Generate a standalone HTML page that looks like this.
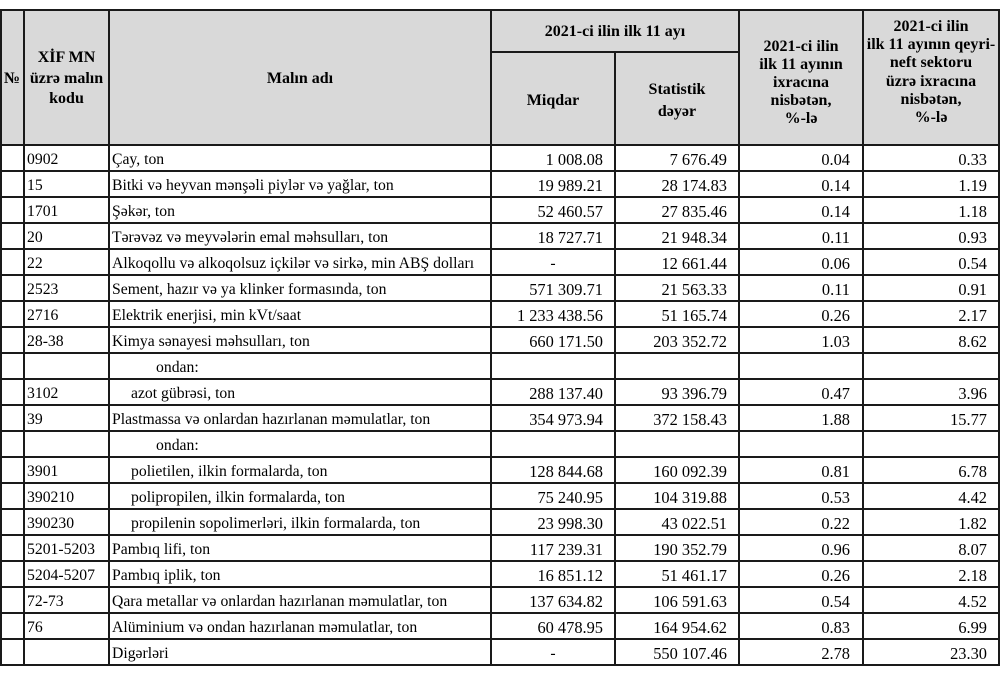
<!DOCTYPE html>
<html><head><meta charset="utf-8">
<style>
*{margin:0;padding:0;box-sizing:border-box}
html,body{width:1000px;height:674px;background:#fff;overflow:hidden}
body{position:relative;font-family:"Liberation Serif","DejaVu Serif",serif;color:#000}
.bg{position:absolute;left:1px;top:10px;width:997px;height:135px;background:#d9d9d9}
.v{position:absolute;width:2px;background:#1a1a1a}
.h{position:absolute;height:2px;background:#1a1a1a}
.hd{position:absolute;font-weight:bold;font-size:16px;text-align:center;white-space:nowrap}
.r{position:absolute;left:0;width:1000px;height:26px;line-height:26px;font-size:15.7px;white-space:nowrap}
.r span{position:absolute;top:2px}
.c{left:27px}
.n{left:112px}
.n2{left:131px}
.o{left:156px}
.m{left:481px;width:122px;text-align:right;font-size:16.4px}
.md{left:491px;width:124px;text-align:center}
.s{left:605px;width:122px;text-align:right;font-size:16.4px}
.p{left:739px;width:111px;text-align:right;font-size:16.4px}
.q{left:863px;width:124px;text-align:right;font-size:16.4px}
</style></head><body>
<div class="bg"></div>

<div class="hd" style="left:1px;width:22px;top:68px;line-height:22px">№</div>
<div class="hd" style="left:24px;width:85px;top:48px;line-height:20.5px">XİF MN<br>üzrə malın<br>kodu</div>
<div class="hd" style="left:110px;width:380px;top:68px;line-height:22px">Malın adı</div>
<div class="hd" style="left:491px;width:248px;top:21px;line-height:22px">2021-ci ilin ilk 11 ayı</div>
<div class="hd" style="left:491px;width:124px;top:90px;line-height:22px">Miqdar</div>
<div class="hd" style="left:615px;width:124px;top:79px;line-height:22px">Statistik<br>dəyər</div>
<div class="hd" style="left:739px;width:124px;top:38px;line-height:18px">2021-ci ilin<br>ilk 11 ayının<br>ixracına<br>nisbətən,<br>%-lə</div>
<div class="hd" style="left:863px;width:136px;top:18px;line-height:18.2px">2021-ci ilin<br>ilk 11 ayının qeyri-<br>neft sektoru<br>üzrə ixracına<br>nisbətən,<br>%-lə</div>

<div class="r" style="top:145px"><span class="c">0902</span><span class="n">Çay, ton</span><span class="m">1 008.08</span><span class="s">7 676.49</span><span class="p">0.04</span><span class="q">0.33</span></div>
<div class="r" style="top:171px"><span class="c">15</span><span class="n">Bitki və heyvan mənşəli piylər və yağlar, ton</span><span class="m">19 989.21</span><span class="s">28 174.83</span><span class="p">0.14</span><span class="q">1.19</span></div>
<div class="r" style="top:197px"><span class="c">1701</span><span class="n">Şəkər, ton</span><span class="m">52 460.57</span><span class="s">27 835.46</span><span class="p">0.14</span><span class="q">1.18</span></div>
<div class="r" style="top:223px"><span class="c">20</span><span class="n">Tərəvəz və meyvələrin emal məhsulları, ton</span><span class="m">18 727.71</span><span class="s">21 948.34</span><span class="p">0.11</span><span class="q">0.93</span></div>
<div class="r" style="top:249px"><span class="c">22</span><span class="n">Alkoqollu və alkoqolsuz içkilər və sirkə, min ABŞ dolları</span><span class="md">-</span><span class="s">12 661.44</span><span class="p">0.06</span><span class="q">0.54</span></div>
<div class="r" style="top:275px"><span class="c">2523</span><span class="n">Sement, hazır və ya klinker formasında, ton</span><span class="m">571 309.71</span><span class="s">21 563.33</span><span class="p">0.11</span><span class="q">0.91</span></div>
<div class="r" style="top:301px"><span class="c">2716</span><span class="n">Elektrik enerjisi, min kVt/saat</span><span class="m">1 233 438.56</span><span class="s">51 165.74</span><span class="p">0.26</span><span class="q">2.17</span></div>
<div class="r" style="top:327px"><span class="c">28-38</span><span class="n">Kimya sənayesi məhsulları, ton</span><span class="m">660 171.50</span><span class="s">203 352.72</span><span class="p">1.03</span><span class="q">8.62</span></div>
<div class="r" style="top:353px"><span class="o">ondan:</span></div>
<div class="r" style="top:379px"><span class="c">3102</span><span class="n2">azot gübrəsi, ton</span><span class="m">288 137.40</span><span class="s">93 396.79</span><span class="p">0.47</span><span class="q">3.96</span></div>
<div class="r" style="top:405px"><span class="c">39</span><span class="n">Plastmassa və onlardan hazırlanan məmulatlar, ton</span><span class="m">354 973.94</span><span class="s">372 158.43</span><span class="p">1.88</span><span class="q">15.77</span></div>
<div class="r" style="top:431px"><span class="o">ondan:</span></div>
<div class="r" style="top:457px"><span class="c">3901</span><span class="n2">polietilen, ilkin formalarda, ton</span><span class="m">128 844.68</span><span class="s">160 092.39</span><span class="p">0.81</span><span class="q">6.78</span></div>
<div class="r" style="top:483px"><span class="c">390210</span><span class="n2">polipropilen, ilkin formalarda, ton</span><span class="m">75 240.95</span><span class="s">104 319.88</span><span class="p">0.53</span><span class="q">4.42</span></div>
<div class="r" style="top:509px"><span class="c">390230</span><span class="n2">propilenin sopolimerləri, ilkin formalarda, ton</span><span class="m">23 998.30</span><span class="s">43 022.51</span><span class="p">0.22</span><span class="q">1.82</span></div>
<div class="r" style="top:535px"><span class="c">5201-5203</span><span class="n">Pambıq lifi, ton</span><span class="m">117 239.31</span><span class="s">190 352.79</span><span class="p">0.96</span><span class="q">8.07</span></div>
<div class="r" style="top:561px"><span class="c">5204-5207</span><span class="n">Pambıq iplik, ton</span><span class="m">16 851.12</span><span class="s">51 461.17</span><span class="p">0.26</span><span class="q">2.18</span></div>
<div class="r" style="top:587px"><span class="c">72-73</span><span class="n">Qara metallar və onlardan hazırlanan məmulatlar, ton</span><span class="m">137 634.82</span><span class="s">106 591.63</span><span class="p">0.54</span><span class="q">4.52</span></div>
<div class="r" style="top:613px"><span class="c">76</span><span class="n">Alüminium və ondan hazırlanan məmulatlar, ton</span><span class="m">60 478.95</span><span class="s">164 954.62</span><span class="p">0.83</span><span class="q">6.99</span></div>
<div class="r" style="top:639px"><span class="n">Digərləri</span><span class="md">-</span><span class="s">550 107.46</span><span class="p">2.78</span><span class="q">23.30</span></div>

<div class="v" style="left:0;top:9px;height:657px"></div>
<div class="v" style="left:23px;top:9px;height:657px"></div>
<div class="v" style="left:108px;top:9px;height:657px"></div>
<div class="v" style="left:490px;top:9px;height:657px"></div>
<div class="v" style="left:614px;top:51px;height:615px"></div>
<div class="v" style="left:738px;top:9px;height:657px"></div>
<div class="v" style="left:862px;top:9px;height:657px"></div>
<div class="v" style="left:998px;top:9px;height:657px"></div>

<div class="h" style="left:0;width:1000px;top:9px"></div>
<div class="h" style="left:490px;width:250px;top:51px"></div>
<div class="h" style="left:0;width:1000px;top:144px"></div>
<div class="h" style="left:0;width:1000px;top:170px"></div>
<div class="h" style="left:0;width:1000px;top:196px"></div>
<div class="h" style="left:0;width:1000px;top:222px"></div>
<div class="h" style="left:0;width:1000px;top:248px"></div>
<div class="h" style="left:0;width:1000px;top:274px"></div>
<div class="h" style="left:0;width:1000px;top:300px"></div>
<div class="h" style="left:0;width:1000px;top:326px"></div>
<div class="h" style="left:0;width:1000px;top:352px"></div>
<div class="h" style="left:0;width:1000px;top:378px"></div>
<div class="h" style="left:0;width:1000px;top:404px"></div>
<div class="h" style="left:0;width:1000px;top:430px"></div>
<div class="h" style="left:0;width:1000px;top:456px"></div>
<div class="h" style="left:0;width:1000px;top:482px"></div>
<div class="h" style="left:0;width:1000px;top:508px"></div>
<div class="h" style="left:0;width:1000px;top:534px"></div>
<div class="h" style="left:0;width:1000px;top:560px"></div>
<div class="h" style="left:0;width:1000px;top:586px"></div>
<div class="h" style="left:0;width:1000px;top:612px"></div>
<div class="h" style="left:0;width:1000px;top:638px"></div>
<div class="h" style="left:0;width:1000px;top:664px"></div>
</body></html>
